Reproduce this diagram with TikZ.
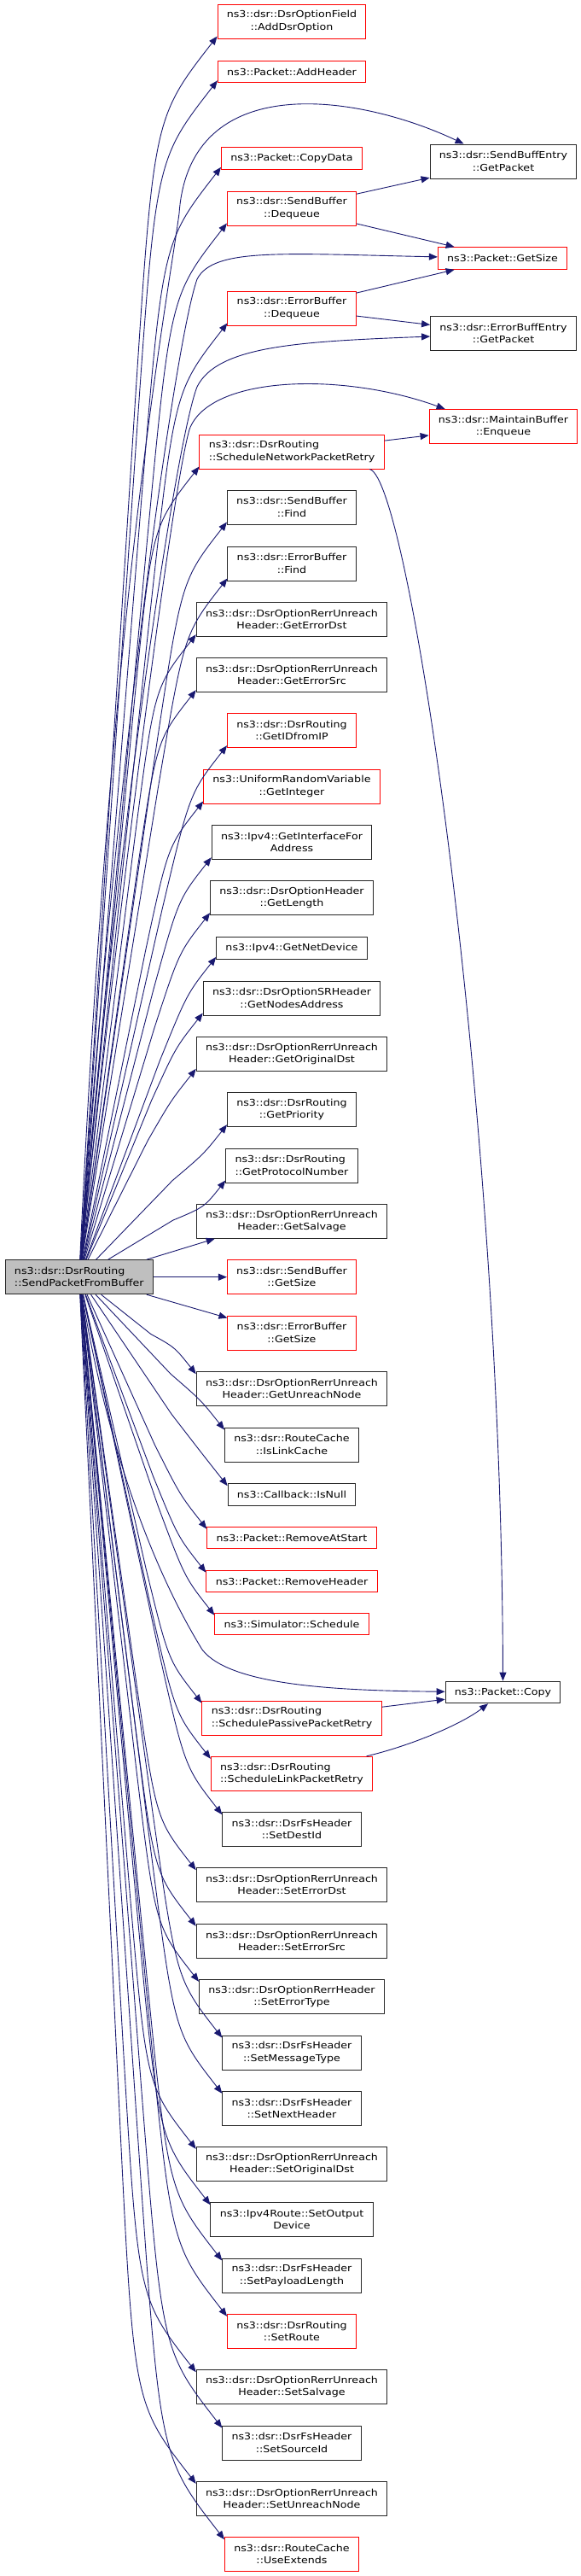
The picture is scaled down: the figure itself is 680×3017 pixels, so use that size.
\documentclass[tikz,border=0pt]{standalone}
\usepackage{fontspec}
\newfontfamily\graphfont{DejaVu Sans}[FakeStretch=1.15]
\usetikzlibrary{arrows.meta,calc}
\definecolor{edgeblue}{HTML}{191970}
\definecolor{maingray}{HTML}{BFBFBF}
\tikzset{
  fnbox/.style={draw=black!85, line width=1pt, fill=white, align=center,
    inner xsep=10.8pt, inner ysep=1pt, minimum height=25.7pt,
    font={\graphfont\fontsize{11pt}{14.3pt}\selectfont}},
  fnred/.style={fnbox, draw=red},
  twoline/.style={minimum height=40pt},
  call/.style={edgeblue, line width=0.9pt, -{Triangle[length=10pt,width=8pt]}},
}
\begin{document}
\begin{tikzpicture}[x=1pt,y=1pt]
    \useasboundingbox (0,0) rectangle (680,-3017);
    %% Caller
    \node[fnbox,twoline,fill=maingray,align=left] (main) at (92.75,-1495.7)
        {ns3::dsr::DsrRouting\\::SendPacketFromBuffer};
    %% Callees, upper half
    \node[fnred,twoline] (adddsr) at (342,-25) {ns3::dsr::DsrOptionField\\::AddDsrOption};
    \node[fnred] (addhdr) at (342,-84) {ns3::Packet::AddHeader};
    \node[fnred] (copydata) at (342,-185.5) {ns3::Packet::CopyData};
    \node[fnred,twoline] (sbdeq) at (342,-244) {ns3::dsr::SendBuffer\\::Dequeue};
    \node[fnred,twoline] (ebdeq) at (342,-361) {ns3::dsr::ErrorBuffer\\::Dequeue};
    \node[fnred,twoline,align=left] (snpr) at (342,-529) {ns3::dsr::DsrRouting\\::ScheduleNetworkPacketRetry};
    \node[fnbox,twoline] (sbfind) at (342,-594) {ns3::dsr::SendBuffer\\::Find};
    \node[fnbox,twoline] (ebfind) at (342,-660) {ns3::dsr::ErrorBuffer\\::Find};
    \node[fnbox,twoline] (geterrdst) at (342,-725.7) {ns3::dsr::DsrOptionRerrUnreach\\Header::GetErrorDst};
    \node[fnbox,twoline] (geterrsrc) at (342,-790.7) {ns3::dsr::DsrOptionRerrUnreach\\Header::GetErrorSrc};
    \node[fnred,twoline] (getid) at (342,-855.7) {ns3::dsr::DsrRouting\\::GetIDfromIP};
    \node[fnred,twoline] (getint) at (342,-921) {ns3::UniformRandomVariable\\::GetInteger};
    \node[fnbox,twoline] (getif) at (342,-986.7) {ns3::Ipv4::GetInterfaceFor\\Address};
    \node[fnbox,twoline] (getlen) at (342,-1051.7) {ns3::dsr::DsrOptionHeader\\::GetLength};
    \node[fnbox] (getnet) at (342,-1110.5) {ns3::Ipv4::GetNetDevice};
    \node[fnbox,twoline] (getnodes) at (342,-1169) {ns3::dsr::DsrOptionSRHeader\\::GetNodesAddress};
    \node[fnbox,twoline] (getorig) at (342,-1234.3) {ns3::dsr::DsrOptionRerrUnreach\\Header::GetOriginalDst};
    \node[fnbox,twoline] (getprio) at (342,-1299.7) {ns3::dsr::DsrRouting\\::GetPriority};
    \node[fnbox,twoline,align=left] (getproto) at (342,-1365) {ns3::dsr::DsrRouting\\::GetProtocolNumber};
    \node[fnbox,twoline] (getsalv) at (342,-1430.3) {ns3::dsr::DsrOptionRerrUnreach\\Header::GetSalvage};
    \node[fnred,twoline] (sbsize) at (342,-1495.7) {ns3::dsr::SendBuffer\\::GetSize};
    %% Callees, lower half
    \node[fnred,twoline] (ebsize) at (342,-1561) {ns3::dsr::ErrorBuffer\\::GetSize};
    \node[fnbox,twoline] (getunr) at (342,-1626.7) {ns3::dsr::DsrOptionRerrUnreach\\Header::GetUnreachNode};
    \node[fnbox,twoline] (islink) at (342,-1692) {ns3::dsr::RouteCache\\::IsLinkCache};
    \node[fnbox] (isnull) at (342,-1750.5) {ns3::Callback::IsNull};
    \node[fnred] (rmstart) at (342,-1801) {ns3::Packet::RemoveAtStart};
    \node[fnred] (rmhdr) at (342,-1852) {ns3::Packet::RemoveHeader};
    \node[fnred] (sched) at (342,-1902) {ns3::Simulator::Schedule};
    \node[fnred,twoline,align=left] (spassive) at (342,-2012) {ns3::dsr::DsrRouting\\::SchedulePassivePacketRetry};
    \node[fnred,twoline,align=left] (slink) at (342,-2077.3) {ns3::dsr::DsrRouting\\::ScheduleLinkPacketRetry};
    \node[fnbox,twoline] (setdest) at (342,-2142.7) {ns3::dsr::DsrFsHeader\\::SetDestId};
    \node[fnbox,twoline] (seterrdst) at (342,-2207.7) {ns3::dsr::DsrOptionRerrUnreach\\Header::SetErrorDst};
    \node[fnbox,twoline] (seterrsrc) at (342,-2273.3) {ns3::dsr::DsrOptionRerrUnreach\\Header::SetErrorSrc};
    \node[fnbox,twoline] (seterrtype) at (342,-2338.3) {ns3::dsr::DsrOptionRerrHeader\\::SetErrorType};
    \node[fnbox,twoline] (setmsg) at (342,-2404) {ns3::dsr::DsrFsHeader\\::SetMessageType};
    \node[fnbox,twoline] (setnext) at (342,-2469.3) {ns3::dsr::DsrFsHeader\\::SetNextHeader};
    \node[fnbox,twoline] (setorig) at (342,-2534.3) {ns3::dsr::DsrOptionRerrUnreach\\Header::SetOriginalDst};
    \node[fnbox,twoline] (setout) at (342,-2599.7) {ns3::Ipv4Route::SetOutput\\Device};
    \node[fnbox,twoline] (setpay) at (342,-2665) {ns3::dsr::DsrFsHeader\\::SetPayloadLength};
    \node[fnred,twoline] (setroute) at (342,-2730.3) {ns3::dsr::DsrRouting\\::SetRoute};
    \node[fnbox,twoline] (setsalv) at (342,-2795.7) {ns3::dsr::DsrOptionRerrUnreach\\Header::SetSalvage};
    \node[fnbox,twoline] (setsrc) at (342,-2861) {ns3::dsr::DsrFsHeader\\::SetSourceId};
    \node[fnbox,twoline] (setunr) at (342,-2926.3) {ns3::dsr::DsrOptionRerrUnreach\\Header::SetUnreachNode};
    \node[fnred,twoline] (useext) at (342,-2991.7) {ns3::dsr::RouteCache\\::UseExtends};
    %% Second level
    \node[fnbox,twoline] (sbe) at (590,-189) {ns3::dsr::SendBuffEntry\\::GetPacket};
    \node[fnred] (pgsize) at (589,-302.5) {ns3::Packet::GetSize};
    \node[fnbox,twoline] (ebe) at (590,-390.7) {ns3::dsr::ErrorBuffEntry\\::GetPacket};
    \node[fnred,twoline] (mbenq) at (590,-499.5) {ns3::dsr::MaintainBuffer\\::Enqueue};
    \node[fnbox] (pcopy) at (589.5,-1982) {ns3::Packet::Copy};

    %% Calls going up
    \foreach \n/\y in {adddsr/25,addhdr/84,copydata/185.5,sbdeq/244,ebdeq/361,
        snpr/529,sbfind/594,ebfind/660,geterrdst/725.7,geterrsrc/790.7,getid/855.7,
        getint/921,getif/986.7,getlen/1051.7,getnet/1110.5,getnodes/1169,
        getorig/1234.3,getprio/1299.7,getproto/1365}{
        \pgfmathsetmacro\dd{1495.7-\y}
        \coordinate (tip) at ($(\n.south west)+(0,3)$);
        \coordinate (bend) at ($(tip)+({-20-0.037*\dd},{-25-0.048*\dd})$);
        \draw[call] (main) -- ($(main.north)!0.75!(bend)$) .. controls (bend) .. (tip);
    }
    \draw[call] ($(main.north east)+(-8,0)$) -- ($(getsalv.south west)+(22,0)$);
    \draw[call] (main) -- (sbsize);
    %% Calls going down
    \draw[call] ($(main.south east)+(-8,0)$) -- ($(ebsize.north west)+(0,-3)$);
    \foreach \n/\y in {getunr/1626.7,islink/1692,isnull/1750.5,rmstart/1801,
        rmhdr/1852,sched/1902,spassive/2012,slink/2077.3,setdest/2142.7,
        seterrdst/2207.7,seterrsrc/2273.3,seterrtype/2338.3,setmsg/2404,
        setnext/2469.3,setorig/2534.3,setout/2599.7,setpay/2665,setroute/2730.3,
        setsalv/2795.7,setsrc/2861,setunr/2926.3,useext/2991.7}{
        \pgfmathsetmacro\dd{\y-1495.7}
        \coordinate (tip) at ($(\n.north west)+(0,-3)$);
        \coordinate (bend) at ($(tip)+({-20-0.037*\dd},{25+0.048*\dd})$);
        \draw[call] (main) -- ($(main.south)!0.75!(bend)$) .. controls (bend) .. (tip);
    }
    %% Calls to the second level
    \draw[call] (main) .. controls (130,-700) and (195,-360) .. (210,-250)
        .. controls (222,-80) and (420,-110) .. ($(sbe.north west)+(40,0)$);
    \draw[call] (main) .. controls (135,-900) and (205,-400) .. (231,-327)
        .. controls (250,-290) and (330,-297) .. (pgsize);
    \draw[call] (main) .. controls (135,-1000) and (205,-520) .. (231,-453)
        .. controls (255,-405) and (350,-400) .. (ebe);
    \draw[call] (main) .. controls (135,-1100) and (200,-580) .. (222,-503)
        .. controls (245,-440) and (400,-435) .. ($(mbenq.north west)+(19,0)$);
    \draw[call] (main) .. controls (135,-1750) and (205,-1880) .. (237,-1932)
        .. controls (270,-1975) and (400,-1980) .. (pcopy);
    \draw[call] (sbdeq) -- (sbe);
    \draw[call] (sbdeq) -- (pgsize);
    \draw[call] (ebdeq) -- (pgsize);
    \draw[call] (ebdeq) -- (ebe);
    \draw[call] (snpr) -- (mbenq);
    \draw[call] (snpr) .. controls (480,-560) and (588,-1300) .. (pcopy);
    \draw[call] (spassive) -- (pcopy);
    \draw[call] (slink) .. controls (480,-2045) and (540,-2020) .. (pcopy);
\end{tikzpicture}
\end{document}
